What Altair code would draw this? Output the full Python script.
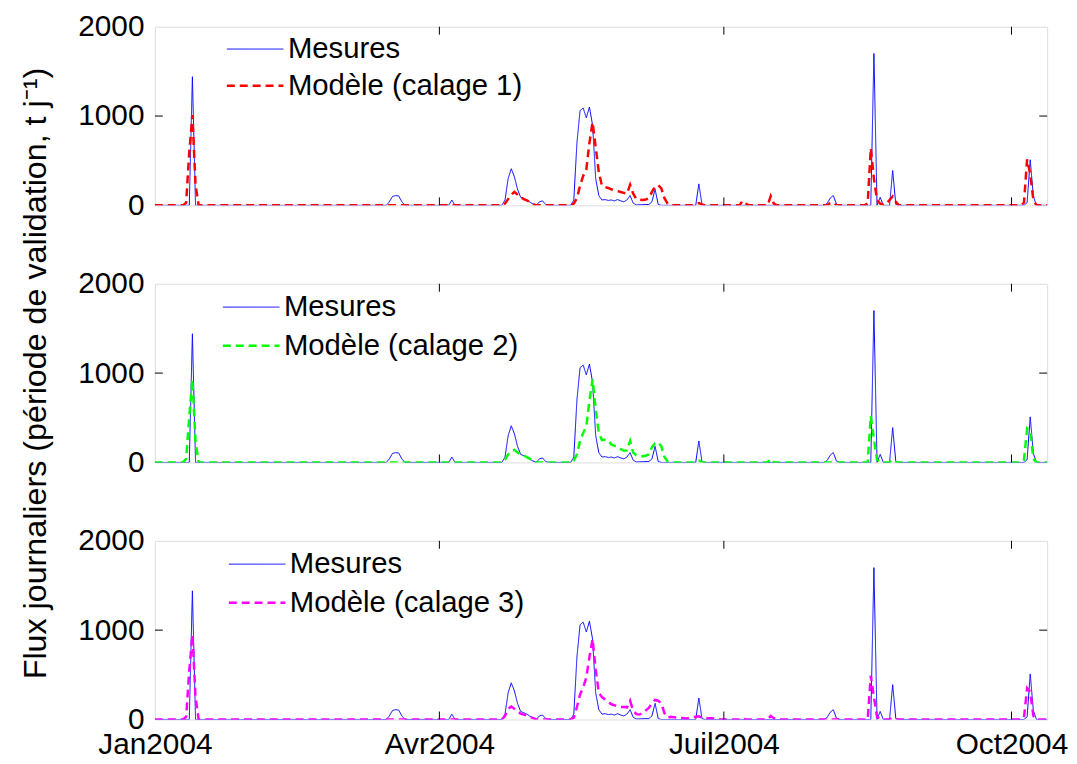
import altair as alt
import pandas as pd

# jours depuis le 1er janvier 2004 / valeurs (t/j)
mesures_jour = [0, 11, 12, 13, 74, 75, 76, 77, 78, 79, 80, 94, 95, 96,
                111, 112, 113, 114, 115, 116, 117, 118, 119, 120, 121, 122, 123, 124, 125, 126,
                133, 134, 135, 136, 137, 138, 139, 140, 141, 142, 143, 144, 145, 146, 147, 148,
                149, 150, 151, 152, 153, 154, 158, 159, 160, 161, 162, 173, 174, 175, 176,
                214, 215, 216, 217, 218, 219, 229, 230, 231, 232, 233, 235, 236, 237, 238,
                278, 279, 280, 281, 282, 286]
mesures_val = [0, 0, 1440, 0, 0, 40, 100, 110, 105, 40, 0, 0, 60, 0,
               0, 60, 300, 410, 320, 180, 90, 75, 60, 35, 15, 0, 40, 50, 10, 0,
               0, 60, 700, 1060, 1090, 980, 1100, 900, 300, 110, 60, 65, 55, 60, 50, 65,
               50, 40, 60, 110, 25, 5, 10, 40, 180, 10, 0, 0, 240, 10, 0,
               0, 20, 80, 110, 15, 0, 0, 1700, 0, 90, 0, 0, 390, 10, 0,
               0, 30, 510, 100, 0, 0]

cal1_jour = [0, 9, 10, 11, 12, 13, 14,
             111, 112, 113, 114, 115, 116, 117, 118, 119, 120, 121, 122,
             133, 134, 135, 136, 137, 138, 139, 140, 141, 142, 143, 144, 145, 146, 147, 148,
             149, 150, 151, 152, 153, 154, 155, 156, 157, 158, 159, 160, 161, 162, 163, 164, 165,
             172, 173, 174, 175, 176, 187, 188, 189, 190, 196, 197, 198, 199,
             215, 216, 217, 218, 227, 228, 229, 230, 231, 232, 233, 234, 235, 236, 237, 238,
             277, 278, 279, 280, 281, 282, 286]
cal1_val = [0, 0, 30, 600, 1010, 230, 0,
            0, 20, 70, 120, 150, 120, 90, 70, 55, 35, 15, 0,
            0, 20, 80, 220, 330, 400, 700, 930, 650, 370, 220, 205, 195, 180, 170, 160,
            150, 140, 130, 230, 130, 70, 65, 60, 65, 80, 150, 210, 225, 190, 80, 20, 0,
            0, 20, 25, 10, 0, 0, 50, 20, 0, 0, 105, 20, 0,
            0, 25, 30, 0, 0, 20, 640, 300, 60, 20, 10, 20, 60, 100, 40, 0,
            0, 30, 515, 350, 60, 0, 0]

cal2_jour = [0, 9, 10, 11, 12, 13, 14,
             111, 112, 113, 114, 115, 116, 117, 118, 119, 120, 121, 122,
             133, 134, 135, 136, 137, 138, 139, 140, 141, 142, 143, 144, 145, 146, 147, 148,
             149, 150, 151, 152, 153, 154, 155, 156, 157, 158, 159, 160, 161, 162, 163, 164, 165,
             173, 174, 175, 196, 197, 198,
             228, 229, 230, 231, 232, 233, 235, 236, 237,
             277, 278, 279, 280, 281, 282, 286]
cal2_val = [0, 0, 40, 520, 930, 230, 0,
            0, 30, 90, 130, 140, 110, 90, 75, 60, 40, 20, 0,
            0, 20, 90, 240, 330, 400, 690, 930, 600, 330, 250, 255, 250, 200, 185, 180,
            150, 130, 135, 240, 110, 80, 70, 70, 75, 90, 170, 215, 225, 180, 60, 10, 0,
            0, 20, 0, 0, 40, 0,
            0, 520, 260, 30, 10, 0, 0, 30, 0,
            0, 30, 380, 350, 40, 0, 0]

cal3_jour = [0, 9, 10, 11, 12, 13, 14,
             111, 112, 113, 114, 115, 116, 117, 118, 119, 120, 121, 122,
             133, 134, 135, 136, 137, 138, 139, 140, 141, 142, 143, 144, 145, 146, 147, 148,
             149, 150, 151, 152, 153, 154, 155, 156, 157, 158, 159, 160, 161, 162, 163, 164,
             165, 166, 167, 168, 169, 170, 171, 172, 173, 174, 175, 176, 177, 178, 179, 180, 181,
             187, 188, 189, 196, 197, 198, 199,
             228, 229, 230, 231, 232, 233, 235, 236, 237,
             277, 278, 279, 280, 281, 282, 286]
cal3_val = [0, 0, 30, 550, 950, 250, 0,
            0, 40, 120, 145, 120, 90, 65, 55, 45, 30, 15, 0,
            0, 20, 140, 280, 360, 470, 700, 900, 560, 300, 250, 225, 200, 170, 160, 145,
            140, 140, 135, 210, 100, 60, 55, 70, 100, 130, 180, 220, 210, 180, 70, 20,
            30, 25, 20, 20, 15, 10, 20, 25, 30, 35, 20, 10, 15, 15, 10, 5, 0,
            0, 20, 0, 0, 40, 15, 0,
            0, 490, 250, 30, 10, 0, 0, 20, 0,
            0, 20, 350, 310, 40, 0, 0]

ticks_x = ["2004-04-01", "2004-07-01", "2004-10-01"]
ticks_y = [1000]
y_ticks = [0, 1000, 2000]

FONT = "Liberation Sans"
ORIGIN = pd.Timestamp("2004-01-01")
TITLE_Y = "Flux journaliers (période de validation, t j\u207b\u00b9)"
W, H = 899, 180
TICK_FS = 30
LEG_FS = 29.5


def to_df(jours, vals, serie):
    dates = [(ORIGIN + pd.Timedelta(days=int(j))).strftime("%Y-%m-%d") for j in jours]
    return pd.DataFrame({"date": dates, "valeur": vals, "serie": serie})


xscale = alt.Scale(type="utc",
                   domain=[alt.DateTime(year=2004, month=1, date=1, utc=True),
                           alt.DateTime(year=2004, month=10, date=12, hours=10, utc=True)],
                   nice=False)
yscale = alt.Scale(domain=[0, 2000], nice=False)


def panel(model_j, model_v, label, color, legend_x, legend_y, row_pad, bottom, middle):
    d_mes = to_df(mesures_jour, mesures_val, "Mesures")
    d_mod = to_df(model_j, model_v, label)
    dom = ["Mesures", label]
    if bottom:
        xaxis = alt.Axis(values=[alt.DateTime(year=2004, month=m, date=1, utc=True) for m in (1, 4, 7, 10)],
                         labelExpr="['Jan','Fév','Mar','Avr','Mai','Juin','Juil','Aoû','Sep','Oct','Nov','Déc'][utcmonth(datum.value)] + utcyear(datum.value)",
                         labelFontSize=TICK_FS, labelFont=FONT, labelColor="black", ticks=False,
                         domain=False, grid=False, labelPadding=10, labelOverlap=False,
                         labelFlush=False, title=None)
    else:
        xaxis = alt.Axis(labels=False, ticks=False, domain=False, grid=False, title=None)
    yaxis = alt.Axis(values=y_ticks, format="d", labelFontSize=TICK_FS, labelFont=FONT,
                     labelColor="black", ticks=False, domain=False, grid=False, labelPadding=11,
                     title=TITLE_Y if middle else None, titleFontSize=32.5, titleFont=FONT,
                     titleFontWeight="normal", titleColor="black", titlePadding=25)
    leg = alt.Legend(title=None, orient="none", legendX=legend_x, legendY=legend_y,
                     labelFontSize=LEG_FS, labelFont=FONT, labelColor="black", labelLimit=0,
                     symbolType="stroke", symbolSize=3249, labelOffset=3,
                     clipHeight=35, rowPadding=row_pad, padding=0)
    enc = dict(
        x=alt.X("date:T", scale=xscale, axis=xaxis),
        y=alt.Y("valeur:Q", scale=yscale, axis=yaxis),
        color=alt.Color("serie:N", scale=alt.Scale(domain=dom, range=["#0000ff", color]), legend=leg),
        strokeDash=alt.StrokeDash("serie:N", scale=alt.Scale(domain=dom, range=[[1, 0], [8, 5]]), legend=leg),
        strokeWidth=alt.StrokeWidth("serie:N", scale=alt.Scale(domain=dom, range=[1, 2.5]), legend=leg),
    )
    l_mes = alt.Chart(d_mes).mark_line(clip=True).encode(**enc)
    l_mod = alt.Chart(d_mod).mark_line(clip=True).encode(**enc)

    tx = pd.DataFrame({"date": ticks_x})
    ty = pd.DataFrame({"valeur": ticks_y})
    xenc = alt.X("date:T", scale=xscale, axis=xaxis)
    yenc = alt.Y("valeur:Q", scale=yscale, axis=yaxis)
    t_top = alt.Chart(tx).mark_rule(color="black", strokeWidth=1).encode(x=xenc, y=alt.value(0), y2=alt.value(8))
    t_bot = alt.Chart(tx).mark_rule(color="black", strokeWidth=1).encode(x=xenc, y=alt.value(H - 8), y2=alt.value(H))
    t_left = alt.Chart(ty).mark_rule(color="black", strokeWidth=1).encode(y=yenc, x=alt.value(0), x2=alt.value(8))
    t_right = alt.Chart(ty).mark_rule(color="black", strokeWidth=1).encode(y=yenc, x=alt.value(W - 8), x2=alt.value(W))
    return alt.layer(l_mes, l_mod, t_top, t_bot, t_left, t_right).properties(width=W, height=H)


p1 = panel(cal1_jour, cal1_val, "Modèle (calage 1)", "#ff0000", 71, 5, 2, False, False)
p2 = panel(cal2_jour, cal2_val, "Modèle (calage 2)", "#00ff00", 67, 6, 4, False, True)
p3 = panel(cal3_jour, cal3_val, "Modèle (calage 3)", "#ff00ff", 73, 6, 4, True, False)

chart = alt.vconcat(p1, p2, p3, spacing=79, bounds="flush").resolve_scale(
    color="independent", strokeDash="independent", strokeWidth="independent"
).properties(
    padding={"left": 11, "top": 0, "right": 0, "bottom": 0}
).configure_view(stroke="#555555", strokeWidth=1).configure(background="white")

chart.save("out.html", embed_options={"renderer": "svg", "actions": False})
